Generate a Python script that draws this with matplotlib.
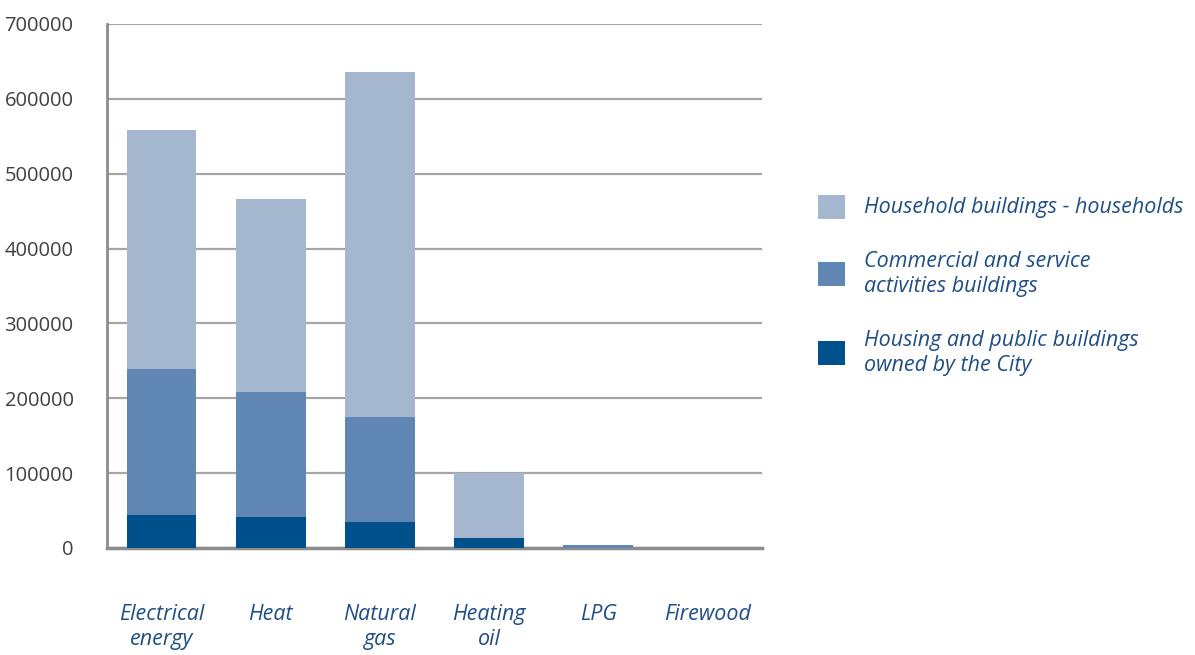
import matplotlib
matplotlib.use("Agg")
import matplotlib.pyplot as plt
from matplotlib.patches import Rectangle

categories = ["Electrical\nenergy", "Heat", "Natural\ngas", "Heating\noil", "LPG", "Firewood"]
city_owned = [44000, 41000, 35000, 13000, 0, 0]
commercial = [195000, 167000, 140000, 0, 3500, 0]
households = [319000, 258000, 461000, 87000, 500, 500]

series_labels = [
    "Household buildings - households",
    "Commercial and service\nactivities buildings",
    "Housing and public buildings\nowned by the City",
]
yticks = [0, 100000, 200000, 300000, 400000, 500000, 600000, 700000]

c_light = "#A5B7CF"
c_mid = "#6086B4"
c_dark = "#00508C"
text_blue = "#1F4E85"
font = "Open Sans"

fig = plt.figure(figsize=(11.95, 6.55), dpi=100)
ax = fig.add_axes([0.0895, 0.1634, 0.548, 0.800])

x = list(range(len(categories)))
w = 0.64
ax.bar(x, city_owned, width=w, color=c_dark, zorder=3)
ax.bar(x, commercial, width=w, bottom=city_owned, color=c_mid, zorder=3)
base2 = [a + b for a, b in zip(city_owned, commercial)]
ax.bar(x, households, width=w, bottom=base2, color=c_light, zorder=3)

ax.set_xlim(-0.5, len(categories) - 0.5)
ax.set_ylim(0, 700000)
ax.set_yticks(yticks)
ax.set_yticklabels([str(v) for v in yticks], fontfamily=font, fontsize=14.5, color="#404040")
ax.yaxis.grid(True, color="#A6A6A6", linewidth=1.6, zorder=0)
ax.tick_params(axis="y", length=0, pad=24)
ax.tick_params(axis="x", length=0)
ax.set_xticks(x)
ax.set_xticklabels([])

for spine in ["top", "right"]:
    ax.spines[spine].set_visible(False)
ax.spines["left"].set_color("#8C8C8C")
ax.spines["left"].set_linewidth(2)
ax.spines["bottom"].set_color("#8C8C8C")
ax.spines["bottom"].set_linewidth(2.5)

for i, lab in enumerate(categories):
    ax.annotate(lab, xy=(i, 0), xycoords="data", xytext=(0, -40), textcoords="offset points",
                ha="center", va="top", fontfamily=font, fontstyle="italic", fontsize=15.5,
                color=text_blue, linespacing=1.3, annotation_clip=False)

# Legend drawn as patches and labels in figure coordinates
W, H = 1195, 655
legend_rows = [
    (c_light, series_labels[0], 207),
    (c_mid, series_labels[1], 274),
    (c_dark, series_labels[2], 353),
]
for color, label, yc in legend_rows:
    fig.patches.append(Rectangle((818 / W, 1 - (yc + 12) / H), 27 / W, 24 / H,
                                 transform=fig.transFigure, facecolor=color, edgecolor="none"))
    fig.text(864 / W, 1 - yc / H, label, ha="left", va="center", fontfamily=font,
             fontstyle="italic", fontsize=15.5, color=text_blue, linespacing=1.3)

fig.savefig("out.png", dpi=100)
